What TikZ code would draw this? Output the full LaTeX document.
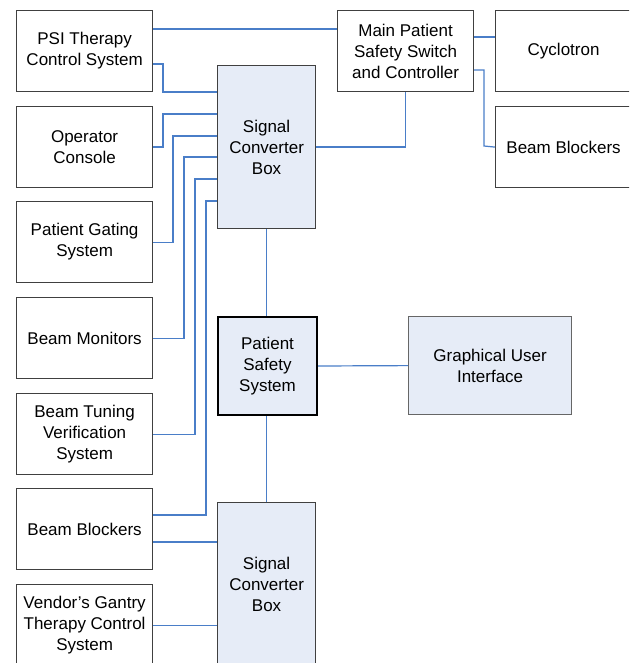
\documentclass[tikz,border=0pt]{standalone}
\usepackage{fontspec}
\setmainfont{Liberation Sans}
\usetikzlibrary{calc}
\definecolor{linkblue}{HTML}{4A7EC8}
\definecolor{boxfill}{HTML}{E6ECF7}
\definecolor{boxline}{HTML}{404040}
\tikzset{
  sysbox/.style={draw=boxline, line width=1.2pt, fill=white, anchor=north west,
    minimum width=136pt, minimum height=81pt, inner sep=0pt, align=center,
    font=\fontsize{17}{21}\selectfont},
  convbox/.style={sysbox, fill=boxfill, minimum width=98pt, minimum height=163pt},
  link/.style={draw=linkblue, line width=1.2pt}
}

\begin{document}
\begin{tikzpicture}[x=1pt, y=-1pt]
        \useasboundingbox (0,0) rectangle (629,663);
        \clip (0,0) rectangle (629,663);
        \fill[white] (0,0) rectangle (629,663);
        % node
        \node[sysbox] (psi) at (16,10) {PSI Therapy\\Control System};
        \node[sysbox] (ops) at (16,106) {Operator\\Console};
        \node[sysbox] (gate) at (16,201) {Patient Gating\\System};
        \node[sysbox] (mon) at (16,297) {Beam Monitors};
        \node[sysbox] (tune) at (16,393) {Beam Tuning\\Verification\\System};
        \node[sysbox] (blkL) at (16,488) {Beam Blockers};
        \node[sysbox] (ven) at (16,584) {Vendor’s Gantry\\Therapy Control\\System};
        \node[convbox] (scbA) at (217,65) {Signal\\Converter\\Box};
        \node[convbox] (scbB) at (217,502) {Signal\\Converter\\Box};
        \node[sysbox] (main) at (337,10) {Main Patient\\Safety Switch\\and Controller};
        \node[sysbox] (cyc) at (495,10) {Cyclotron};
        \node[sysbox] (blkR) at (495,106) {Beam Blockers};
        \node[sysbox, fill=boxfill, draw=black, line width=2pt, minimum width=99pt,
          minimum height=98pt] (pss) at (217,316) {Patient\\Safety\\System};
        \node[sysbox, fill=boxfill, draw=gray!80!black, minimum width=163pt,
          minimum height=98pt] (gui) at (408,316) {Graphical User\\Interface};
        % lines
        \draw[link] (psi.east |- 0,29) -- (main.west |- 0,29);
        \draw[link] (psi.east |- 0,64) -| (163,92) -- (scbA.west |- 0,92);
        \draw[link] (ops.east) -| (163,114) -- (scbA.west |- 0,114);
        \draw[link] (gate.east) -| (173,136) -- (scbA.west |- 0,136);
        \draw[link] (mon.east) -| (184,157) -- (scbA.west |- 0,157);
        \draw[link] (tune.east) -| (195,179) -- (scbA.west |- 0,179);
        \draw[link] (blkL.east |- 0,515) -| (206,201) -- (scbA.west |- 0,201);
        \draw[link] (scbA.east) -| (main.south);
        \draw[link] (main.east |- 0,37) -- (cyc.west |- 0,37);
        \draw[link] (main.east |- 0,70) -| (484,146) -- (blkR.west);
        \draw[link] (scbA.south) -- (scbA.south |- pss.north);
        \draw[link] (pss.east) -- (gui.west);
        \draw[link] (scbB.north |- pss.south) -- (scbB.north);
        \draw[link] (blkL.east |- 0,542) -- (scbB.west |- 0,542);
        \draw[link] (ven.east) -- (scbB.west |- ven.east);
      \end{tikzpicture}
\end{document}
